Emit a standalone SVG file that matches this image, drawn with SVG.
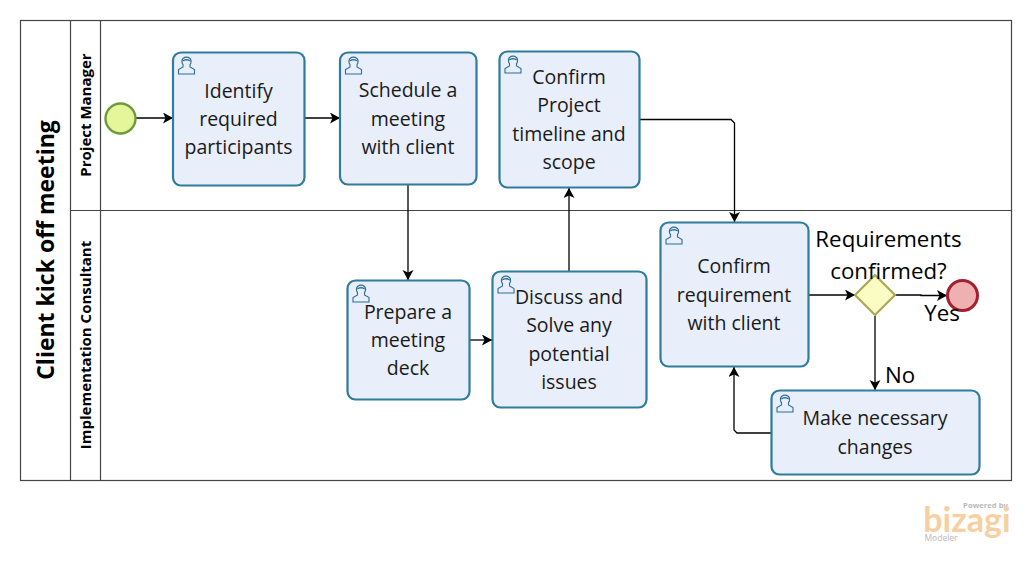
<svg xmlns="http://www.w3.org/2000/svg" width="1031" height="573" viewBox="0 0 1031 573">
<style>
text{font-family:"Open Sans","Noto Sans","Liberation Sans",sans-serif;text-anchor:middle;fill:#1a1a1a}
.t{font-size:19.500px}
.l{font-size:22.300px;fill:#000}
.lane{fill:none;stroke:#444;stroke-width:1.2}
.hd{font-weight:700;fill:#000}
.task{fill:#e9eefb;stroke:#2f7c9c;stroke-width:2.2}
.c{fill:none;stroke:#000;stroke-width:1.3;marker-end:url(#a)}
.u{fill:none;stroke:#2b6f95;stroke-width:1.1}
</style>
<defs>
<marker id="a" markerUnits="userSpaceOnUse" markerWidth="12" markerHeight="12" refX="10" refY="5.500" orient="auto"><path d="M0 0L10 5.500L0 11L2.500 5.500Z" fill="#000"/></marker>
<g id="user"><path class="u" d="M-8 8V3.500L-3.500 1V-1.500C-5-3-5-6-3.500-7.500C-1.500-9 1.500-9 3.500-7.500C5-6 5-3 3.500-1.500V1L8 3.500V8Z"/><path d="M-4.500-4C-4-8 4-8 4.500-4C2-6-2-6-4.500-4Z" fill="#2b6f95"/></g>
</defs>
<g id="pool">
<rect class="lane" x="20.500" y="20.500" width="991" height="460"/>
<path class="lane" d="M70.500 20.500V480.500M100.500 20.500V480.500M70.500 210.500H1011.500"/>
<text class="hd" font-size="23" transform="translate(53.500 250) rotate(-90)">Client kick off meeting</text>
<text class="hd" font-size="15" transform="translate(90.500 115) rotate(-90)">Project Manager</text>
<text class="hd" font-size="15" transform="translate(90.500 345) rotate(-90)">Implementation Consultant</text>
</g>
<g id="connectors">
<path class="c" d="M136 118H173"/>
<path class="c" d="M305 118H340"/>
<path class="c" d="M408 185V280"/>
<path class="c" d="M470 340H492"/>
<path class="c" d="M569 271V188"/>
<path class="c" d="M640 119.500H731L734.500 123V222"/>
<path class="c" d="M809 295H855"/>
<path class="c" d="M895 295H921V295.500H947"/>
<path class="c" d="M875 316V390"/>
<path class="c" d="M771 433H737L734 430V367"/>
</g>
<g id="start"><circle cx="120.500" cy="118.500" r="15" fill="#e4f59a" stroke="#6f9a3c" stroke-width="2.400"/></g>
<g id="identify"><rect class="task" x="173" y="52.500" width="131.500" height="133" rx="8"/><use href="#user" x="186.500" y="66"/><text class="t" x="238.500" y="98">Identify</text><text class="t" x="238.500" y="126">required</text><text class="t" x="238.500" y="154">participants</text></g>
<g id="schedule"><rect class="task" x="340" y="52.500" width="136.500" height="132" rx="8"/><use href="#user" x="353.500" y="66"/><text class="t" x="408" y="97">Schedule a</text><text class="t" x="408" y="126">meeting</text><text class="t" x="408" y="154">with client</text></g>
<g id="confirm-scope"><rect class="task" x="499.500" y="51.500" width="140" height="136" rx="8"/><use href="#user" x="513" y="65"/><text class="t" x="569" y="84">Confirm</text><text class="t" x="569" y="112">Project</text><text class="t" x="569" y="141">timeline and</text><text class="t" x="569" y="169">scope</text></g>
<g id="prepare"><rect class="task" x="347.500" y="280.500" width="122" height="119" rx="8"/><use href="#user" x="361" y="294"/><text class="t" x="408" y="319">Prepare a</text><text class="t" x="408" y="347">meeting</text><text class="t" x="408" y="375">deck</text></g>
<g id="discuss"><rect class="task" x="492.500" y="271.500" width="154" height="136" rx="8"/><use href="#user" x="506" y="285"/><text class="t" x="569" y="304">Discuss and</text><text class="t" x="569" y="332">Solve any</text><text class="t" x="569" y="361">potential</text><text class="t" x="569" y="389">issues</text></g>
<g id="confirm-req"><rect class="task" x="660.500" y="222.500" width="148" height="144" rx="8"/><use href="#user" x="674" y="236"/><text class="t" x="734" y="273">Confirm</text><text class="t" x="734" y="302">requirement</text><text class="t" x="734" y="330">with client</text></g>
<g id="changes"><rect class="task" x="771.500" y="390.500" width="208" height="84" rx="8"/><use href="#user" x="785" y="404"/><text class="t" x="875" y="425">Make necessary</text><text class="t" x="875" y="454">changes</text></g>
<g id="gateway"><path d="M875 275L895 295L875 315L855 295Z" fill="#fbfbc4" stroke="#a9a957" stroke-width="2.200"/></g>
<g id="end"><circle cx="962.500" cy="295.500" r="15" fill="#eeb0b0" stroke="#a3202f" stroke-width="3"/></g>
<g id="labels">
<text class="l" x="888.500" y="247">Requirements</text>
<text class="l" x="888.500" y="279">confirmed?</text>
<text class="l" x="942" y="321">Yes</text>
<text class="l" x="900" y="383">No</text>
</g>
<g id="logo">
<text x="985.500" y="508" font-size="7.700" font-weight="700" style="fill:#b9b9b9">Powered by</text>
<text x="967" y="532" font-size="34" font-weight="700" style="fill:#f7cfa0;font-family:'Lato',sans-serif">bizagi</text>
<text x="941" y="541" font-size="8.500" style="fill:#b9b9b9">Modeler</text>
</g>
</svg>
